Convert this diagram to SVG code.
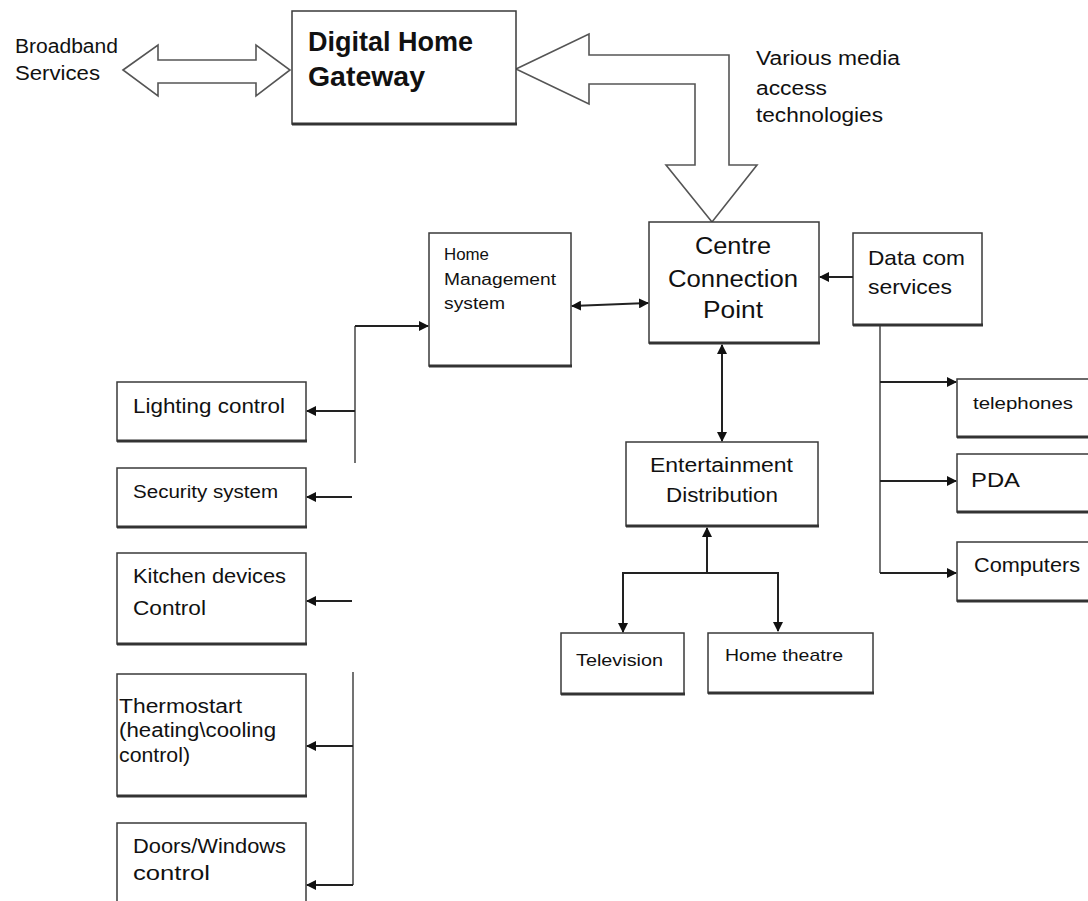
<svg xmlns="http://www.w3.org/2000/svg" width="1088" height="901" viewBox="0 0 1088 901">
  <style>
    .box { fill: #ffffff; stroke: #3a3a3a; stroke-width: 1.5; }
    .shade { stroke: #333333; stroke-width: 3; fill: none; }
    .lbl { font-family: "Liberation Sans", Arial, sans-serif; fill: #111111; }
    .big { fill: #ffffff; stroke: #555555; stroke-width: 1.6; stroke-linejoin: miter; }
    .wire { fill: none; stroke: #222222; stroke-width: 2; }
    .thin { fill: none; stroke: #444444; stroke-width: 1.5; }
  </style>
  <defs>
    <marker id="head" viewBox="0 0 10 10" refX="9" refY="5" markerWidth="5" markerHeight="5" orient="auto-start-reverse" markerUnits="strokeWidth">
      <path d="M0,0 L10,5 L0,10 z" fill="#111111"/>
    </marker>
  </defs>
  <rect width="1088" height="901" fill="#ffffff"/>

  <!-- broadband label -->
  <g id="broadband" class="lbl" font-size="20">
    <text x="15" y="53" textLength="103" lengthAdjust="spacingAndGlyphs">Broadband</text>
    <text x="15" y="80" textLength="85" lengthAdjust="spacingAndGlyphs">Services</text>
  </g>

  <!-- media access label -->
  <g id="media-label" class="lbl" font-size="20">
    <text x="756" y="65" textLength="144" lengthAdjust="spacingAndGlyphs">Various media</text>
    <text x="756" y="95" textLength="71" lengthAdjust="spacingAndGlyphs">access</text>
    <text x="756" y="122" textLength="127" lengthAdjust="spacingAndGlyphs">technologies</text>
  </g>

  <!-- wide block arrows -->
  <g id="block-arrows">
    <polygon class="big" points="123,70 158,45 158,60 256,60 256,45 290,70 256,96 256,83 158,83 158,96"/>
    <polygon class="big" points="516,69 589,34 589,55 729,55 729,165 757,165 712,222 666,165 695,165 695,84 589,84 589,104"/>
  </g>

  <!-- gateway -->
  <g id="gateway">
    <rect class="box" x="292" y="11" width="224" height="113"/>
    <line class="shade" x1="292" y1="124" x2="517" y2="124"/>
    <text class="lbl" x="308" y="51" font-size="27" font-weight="bold" textLength="165" lengthAdjust="spacingAndGlyphs">Digital Home</text>
    <text class="lbl" x="308" y="86" font-size="27" font-weight="bold" textLength="117" lengthAdjust="spacingAndGlyphs">Gateway</text>
  </g>

  <g id="home-management">
    <rect class="box" x="429" y="233" width="142" height="133"/>
    <line class="shade" x1="429" y1="366" x2="572" y2="366"/>
    <g class="lbl" font-size="16">
      <text x="444" y="260" textLength="45" lengthAdjust="spacingAndGlyphs">Home</text>
      <text x="444" y="285" textLength="112" lengthAdjust="spacingAndGlyphs">Management</text>
      <text x="444" y="309" textLength="61" lengthAdjust="spacingAndGlyphs">system</text>
    </g>
  </g>

  <g id="centre">
    <rect class="box" x="649" y="222" width="170" height="121"/>
    <line class="shade" x1="649" y1="343" x2="820" y2="343"/>
    <g class="lbl" font-size="23" text-anchor="middle">
      <text x="733" y="254" textLength="76" lengthAdjust="spacingAndGlyphs">Centre</text>
      <text x="733" y="287" textLength="130" lengthAdjust="spacingAndGlyphs">Connection</text>
      <text x="733" y="318" textLength="60" lengthAdjust="spacingAndGlyphs">Point</text>
    </g>
  </g>

  <g id="datacom">
    <rect class="box" x="853" y="233" width="129" height="92"/>
    <line class="shade" x1="853" y1="325" x2="983" y2="325"/>
    <g class="lbl" font-size="21">
      <text x="868" y="265" textLength="97" lengthAdjust="spacingAndGlyphs">Data com</text>
      <text x="868" y="294" textLength="84" lengthAdjust="spacingAndGlyphs">services</text>
    </g>
  </g>

  <g id="telephones">
    <rect class="box" x="957" y="379" width="140" height="58"/>
    <line class="shade" x1="957" y1="437" x2="1097" y2="437"/>
    <text class="lbl" x="973" y="409" font-size="17" textLength="100" lengthAdjust="spacingAndGlyphs">telephones</text>
  </g>

  <g id="pda">
    <rect class="box" x="957" y="454" width="140" height="58"/>
    <line class="shade" x1="957" y1="512" x2="1097" y2="512"/>
    <text class="lbl" x="971" y="487" font-size="20" textLength="49" lengthAdjust="spacingAndGlyphs">PDA</text>
  </g>

  <g id="computers">
    <rect class="box" x="957" y="542" width="140" height="59"/>
    <line class="shade" x1="957" y1="601" x2="1097" y2="601"/>
    <text class="lbl" x="974" y="572" font-size="20" textLength="106" lengthAdjust="spacingAndGlyphs">Computers</text>
  </g>

  <g id="entertainment">
    <rect class="box" x="626" y="442" width="192" height="84"/>
    <line class="shade" x1="626" y1="526" x2="819" y2="526"/>
    <g class="lbl" font-size="20">
      <text x="650" y="472" textLength="143" lengthAdjust="spacingAndGlyphs">Entertainment</text>
      <text x="666" y="502" textLength="112" lengthAdjust="spacingAndGlyphs">Distribution</text>
    </g>
  </g>

  <g id="television">
    <rect class="box" x="561" y="633" width="123" height="61"/>
    <line class="shade" x1="561" y1="694" x2="685" y2="694"/>
    <text class="lbl" x="576" y="666" font-size="17" textLength="87" lengthAdjust="spacingAndGlyphs">Television</text>
  </g>

  <g id="home-theatre">
    <rect class="box" x="708" y="633" width="165" height="60"/>
    <line class="shade" x1="708" y1="693" x2="874" y2="693"/>
    <text class="lbl" x="725" y="661" font-size="17" textLength="118" lengthAdjust="spacingAndGlyphs">Home theatre</text>
  </g>

  <g id="lighting">
    <rect class="box" x="117" y="382" width="189" height="59"/>
    <line class="shade" x1="117" y1="441" x2="307" y2="441"/>
    <text class="lbl" x="133" y="413" font-size="20" textLength="152" lengthAdjust="spacingAndGlyphs">Lighting control</text>
  </g>

  <g id="security">
    <rect class="box" x="117" y="468" width="189" height="59"/>
    <line class="shade" x1="117" y1="527" x2="307" y2="527"/>
    <text class="lbl" x="133" y="498" font-size="18" textLength="145" lengthAdjust="spacingAndGlyphs">Security system</text>
  </g>

  <g id="kitchen">
    <rect class="box" x="117" y="553" width="189" height="91"/>
    <line class="shade" x1="117" y1="644" x2="307" y2="644"/>
    <g class="lbl" font-size="20">
      <text x="133" y="583" textLength="153" lengthAdjust="spacingAndGlyphs">Kitchen devices</text>
      <text x="133" y="615" textLength="73" lengthAdjust="spacingAndGlyphs">Control</text>
    </g>
  </g>

  <g id="thermostat">
    <rect class="box" x="117" y="674" width="189" height="122"/>
    <line class="shade" x1="117" y1="796" x2="307" y2="796"/>
    <g class="lbl" font-size="20">
      <text x="119" y="713" textLength="123" lengthAdjust="spacingAndGlyphs">Thermostart</text>
      <text x="119" y="737" textLength="157" lengthAdjust="spacingAndGlyphs">(heating\cooling</text>
      <text x="119" y="762" textLength="71" lengthAdjust="spacingAndGlyphs">control)</text>
    </g>
  </g>

  <g id="doors-windows">
    <rect class="box" x="117" y="823" width="189" height="90"/>
    <g class="lbl" font-size="20">
      <text x="133" y="853" textLength="153" lengthAdjust="spacingAndGlyphs">Doors/Windows</text>
      <text x="133" y="880" textLength="77" lengthAdjust="spacingAndGlyphs">control</text>
    </g>
  </g>

  <!-- connectors -->
  <g id="connectors">
    <!-- home management <-> centre -->
    <line class="wire" x1="572" y1="306" x2="648" y2="303" marker-start="url(#head)" marker-end="url(#head)"/>
    <!-- data com -> centre -->
    <line class="wire" x1="853" y1="277" x2="820" y2="277" marker-end="url(#head)"/>
    <!-- centre <-> entertainment -->
    <line class="wire" x1="722" y1="345" x2="722" y2="441" marker-start="url(#head)" marker-end="url(#head)"/>
    <!-- entertainment fan-out -->
    <line class="wire" x1="707" y1="573" x2="707" y2="528" marker-end="url(#head)"/>
    <polyline class="wire" points="623,632 623,573 778,573 778,631" marker-start="url(#head)" marker-end="url(#head)"/>
    <!-- data com fan-out -->
    <line class="thin" x1="880" y1="326" x2="880" y2="573"/>
    <line class="wire" x1="880" y1="382" x2="956" y2="382" marker-end="url(#head)"/>
    <line class="wire" x1="880" y1="481" x2="956" y2="481" marker-end="url(#head)"/>
    <line class="wire" x1="880" y1="573" x2="956" y2="573" marker-end="url(#head)"/>
    <!-- home management bus -->
    <line class="thin" x1="355" y1="326" x2="355" y2="463"/>
    <line class="wire" x1="355" y1="326" x2="428" y2="326" marker-end="url(#head)"/>
    <line class="wire" x1="355" y1="411" x2="307" y2="411" marker-end="url(#head)"/>
    <line class="wire" x1="352" y1="497" x2="307" y2="497" marker-end="url(#head)"/>
    <line class="wire" x1="352" y1="601" x2="307" y2="601" marker-end="url(#head)"/>
    <line class="thin" x1="353" y1="672" x2="353" y2="885"/>
    <line class="wire" x1="353" y1="746" x2="307" y2="746" marker-end="url(#head)"/>
    <line class="wire" x1="353" y1="885" x2="307" y2="885" marker-end="url(#head)"/>
  </g>
</svg>
